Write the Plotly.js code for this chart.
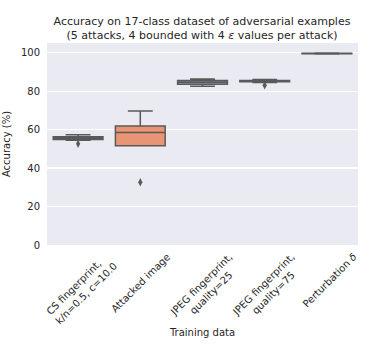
<!DOCTYPE html>
<html>
<head>
<meta charset="utf-8">
<script src="https://cdn.plot.ly/plotly-3.0.1.min.js"></script>
<style>html,body{margin:0;padding:0;background:#fff;}#chart{width:370px;height:357px;}</style>
</head>
<body>
<div id="chart"></div>
<script>
const categories = [
  "CS fingerprint,",
  "Attacked image",
  "JPEG fingerprint, q25",
  "JPEG fingerprint, q75",
  "Perturbation δ"
];
const tickLabels = [
  "CS fingerprint,\u00a0\u00a0\u00a0<br>k/n=0.5, c=10.0",
  "Attacked image",
  "JPEG fingerprint,<br>quality=25\u00a0\u00a0\u00a0\u00a0",
  "JPEG fingerprint,<br>quality=75\u00a0\u00a0\u00a0\u00a0",
  "Perturbation <i>δ</i>"
];
const lowerWhisker = [54.5, 51.6, 82.5, 84.5, 99.3];
const q1Values     = [54.9, 51.6, 83.6, 84.8, 99.4];
const medianValues = [55.6, 58.5, 84.6, 85.2, 99.6];
const q3Values     = [56.3, 61.8, 85.5, 85.5, 99.7];
const upperWhisker = [57.3, 69.6, 86.3, 86.0, 99.8];
const outlierCategory = [0, 1, 3];
const outlierValues   = [52.6, 32.6, 83.0];
const boxColors = ["#71b7a1", "#e99575", "#95a3c3", "#db96c0", "#a2c764"];
const yTicks = [0, 20, 40, 60, 80, 100];

const lineGray = "#595959";
const traces = categories.map((c, i) => ({
  type: "box",
  x: [c],
  q1: [q1Values[i]],
  median: [medianValues[i]],
  q3: [q3Values[i]],
  lowerfence: [lowerWhisker[i]],
  upperfence: [upperWhisker[i]],
  width: 0.8,
  whiskerwidth: 0.5,
  fillcolor: boxColors[i],
  line: {color: lineGray, width: 1.5},
  boxpoints: false,
  showlegend: false,
  hoverinfo: "skip"
}));
traces.push({
  type: "scatter",
  mode: "markers",
  x: outlierCategory.map(i => categories[i]),
  y: outlierValues,
  marker: {symbol: "diamond-tall", size: 6, color: lineGray},
  showlegend: false,
  hoverinfo: "skip"
});

const font = {family: "DejaVu Sans", color: "#262626"};
const layout = {
  width: 370, height: 357,
  margin: {l: 47, r: 12, t: 43, b: 112},
  paper_bgcolor: "#ffffff",
  plot_bgcolor: "#eaeaf2",
  font: Object.assign({size: 10}, font),
  boxmode: "overlay",
  title: {
    text: "Accuracy on 17-class dataset of adversarial examples<br>(5 attacks, 4 bounded with 4 <i>ε</i> values per attack)",
    font: Object.assign({size: 11}, font),
    x: 0.546, xanchor: "center",
    y: 0.930, yanchor: "top", yref: "container"
  },
  xaxis: {
    type: "category",
    categoryorder: "array",
    categoryarray: categories,
    range: [-0.5, 4.5],
    tickvals: categories,
    ticktext: tickLabels,
    tickangle: -45,
    ticklabelshift: 27,
    ticklabelstandoff: 3,
    ticks: "",
    showgrid: false,
    zeroline: false,
    showline: false,
    tickfont: Object.assign({size: 10}, font),
    title: {text: "Training data", font: Object.assign({size: 10}, font), standoff: 0}
  },
  yaxis: {
    range: [0, 105],
    tickvals: yTicks,
    ticks: "",
    ticklabelstandoff: 6,
    showgrid: true,
    gridcolor: "#ffffff",
    gridwidth: 1.2,
    zeroline: false,
    showline: false,
    tickfont: Object.assign({size: 10}, font),
    title: {text: "Accuracy (%)", font: Object.assign({size: 10}, font), standoff: 8}
  }
};

Plotly.newPlot("chart", traces, layout, {displayModeBar: false, staticPlot: true});
</script>
</body>
</html>
